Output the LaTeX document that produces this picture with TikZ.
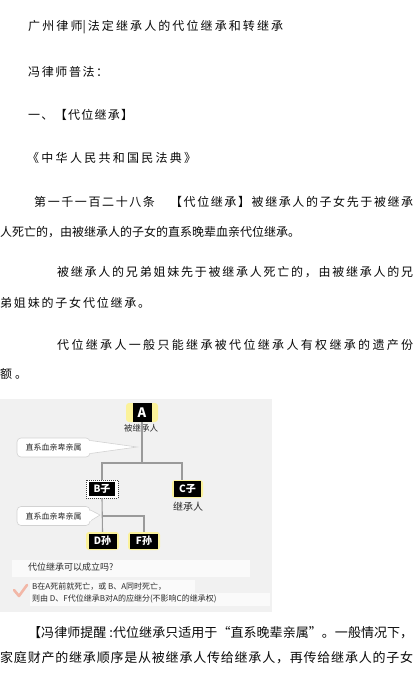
\documentclass[tikz,border=0pt]{standalone}
\usepackage{fontspec}
\setmainfont{Noto Sans CJK SC}
\definecolor{txtc}{HTML}{0A0A0A}
\definecolor{bgc}{HTML}{F1F1F1}
\definecolor{bandc}{HTML}{FAFAFA}
\definecolor{yelc}{HTML}{FBF29A}
\definecolor{linec}{HTML}{9A9A9A}
\definecolor{calc}{HTML}{D2D2D2}
\definecolor{dtxt}{HTML}{2A2A2A}
\definecolor{chkc}{HTML}{F2B7A7}
\def\myspread#1{\ifx\relax#1\unskip\else#1\hskip 0pt plus 1fil\relax\expandafter\myspread\fi}
\tikzset{
  body/.style={anchor=west, inner sep=0pt, font=\fontsize{12}{13}\selectfont, text=txtc},
  bodyb/.style={anchor=west, inner sep=0pt, font=\fontsize{13}{15}\selectfont, text=txtc},
  yel/.style={fill=yelc, rounded corners=3pt, inner sep=0pt},
  blk/.style={fill=black, text=white, inner sep=0pt, font=\bfseries\fontsize{10}{10}\selectfont},
  conn/.style={draw=linec, line width=1.1pt},
  callbox/.style={draw=calc, fill=white, rounded corners=4pt, line width=0.6pt, minimum width=73pt, minimum height=19pt, inner sep=0pt, font=\fontsize{8}{8}\selectfont, text=dtxt},
  small/.style={inner sep=0pt, text=dtxt},
}
\begin{document}
\begin{tikzpicture}[x=1pt,y=-1pt]
\path[use as bounding box, fill=white] (0,0) rectangle (415,684);
% top text
\node[body] (t1) at (28,27) {\hbox to 255pt{\myspread 广州律{师|}法定继承人的代位继承和转继承\relax}};
\node[body] (t2) at (28,72) {\hbox to 80pt{\myspread 冯律师普法：\relax}};
\node[body] (t3) at (28,115) {\hbox to 105pt{\myspread 一、【代位继承】\relax}};
\node[body] (t4) at (27,158) {\hbox to 169pt{\myspread 《中华人民共和国民法典》\relax}};
\node[body] (t5) at (34,202) {\hbox to 379pt{\myspread 第一千一百二十八条　【代位继承】被继承人的子女先于被继承\relax}};
\node[body] (t6) at (0,232) {\hbox to 300pt{\myspread 人死亡的，由被继承人的子女的直系晚辈血亲代位继承。\relax}};
\node[body] (t7) at (57,272) {\hbox to 356pt{\myspread 被继承人的兄弟姐妹先于被继承人死亡的，由被继承人的兄\relax}};
\node[body] (t8) at (0,303) {\hbox to 150pt{\myspread 弟姐妹的子女代位继承。\relax}};
\node[body] (t9) at (57,345) {\hbox to 356pt{\myspread 代位继承人一般只能继承被代位继承人有权继承的遗产份\relax}};
\node[body] (t10) at (0,374) {\hbox to 27pt{\myspread 额。\relax}};
% diagram background
\fill[bgc] (0,399) rectangle (272,612);
\fill[bandc] (12,560) rectangle (250,577);
\fill[bandc] (30,580) rectangle (195,593);
\fill[bandc] (30,593) rectangle (270,606);
% A
\node[yel, minimum width=32pt, minimum height=19pt] (Ay) at (142,412.5) {};
\node[blk, minimum width=19pt, minimum height=19pt, font=\bfseries\fontsize{13}{13}\selectfont] (A) at (142,412.5) {A};
\node[small, font=\fontsize{8.5}{8.5}\selectfont] (Alab) at (141,428) {被继承人};
% B
\node[draw=black!75, dash pattern=on 1pt off 1pt, fill=white, minimum width=32pt, minimum height=18pt, inner sep=0pt] (Bo) at (102,489) {};
\node[blk, minimum width=26pt, minimum height=14pt] (B) at (102,489) {B子};
% C
\node[yel, minimum width=31pt, minimum height=18pt] (Cy) at (187.5,489) {};
\node[blk, minimum width=27pt, minimum height=16pt] (C) at (187.5,489) {C子};
\node[small, font=\fontsize{10}{10}\selectfont] (Clab) at (188,507) {继承人};
% D, F
\node[yel, minimum width=33pt, minimum height=18pt] (Dy) at (102.5,541) {};
\node[blk, minimum width=28pt, minimum height=15pt] (D) at (102.5,541) {D孙};
\node[yel, minimum width=32pt, minimum height=18pt] (Fy) at (144,541) {};
\node[blk, minimum width=28pt, minimum height=15pt] (F) at (144,541) {F孙};
% connectors
\coordinate (j1) at (142,463);
\coordinate (j2) at (102,516);
\draw[conn] (A.south) -- (j1);
\draw[conn] (Bo.north) |- (j1) -| (Cy.north -| 182,0);
\draw[conn] (Bo.south) -- (Dy.north);
\draw[conn] (j2) -| (Fy.north);
% callout 1
\node[callbox] (cb1) at (53.5,447.5) {直系血亲卑亲属};
\coordinate (tip1) at (137,447);
\filldraw[draw=calc, fill=white, line width=0.6pt] ([yshift=-6pt]cb1.east) -- (tip1) -- ([yshift=7pt]cb1.east);
\fill[white] ([xshift=-1.5pt,yshift=-5.5pt]cb1.east) rectangle ([xshift=1pt,yshift=6.5pt]cb1.east);
% callout 2
\node[callbox] (cb2) at (53.5,516) {直系血亲卑亲属};
\coordinate (tip2) at (100,515);
\filldraw[draw=calc, fill=white, line width=0.6pt] ([yshift=-5pt]cb2.east) -- (tip2) -- ([yshift=6pt]cb2.east);
\fill[white] ([xshift=-1.5pt,yshift=-4.5pt]cb2.east) rectangle ([xshift=0.8pt,yshift=5.5pt]cb2.east);
% question
\node[small, anchor=west, font=\fontsize{9}{9}\selectfont] (q) at (28,567) {代位继承可以成立吗?};
\node[small, anchor=west, font=\fontsize{8}{8}\selectfont] (a1) at (32,587) {B在A死前就死亡，或 B、A同时死亡，};
\node[small, anchor=west, font=\fontsize{8}{8}\selectfont] (a2) at (32,599) {则由 D、F代位继承B对A的应继分(不影响C的继承权)};
\draw[chkc, line width=2.6pt, line cap=round, line join=round] (14,590) -- (19,596) -- (27,585);
% bottom text
\node[bodyb] (t11) at (28,633) {\hbox to 385pt{\myspread 【冯律师提醒{\ }:代位继承只适用于“直系晚辈亲属”。一般情况下，\relax}};
\node[bodyb] (t12) at (0,658) {\hbox to 413pt{\myspread 家庭财产的继承顺序是从被继承人传给继承人，再传给继承人的子女\relax}};
\end{tikzpicture}
\end{document}
